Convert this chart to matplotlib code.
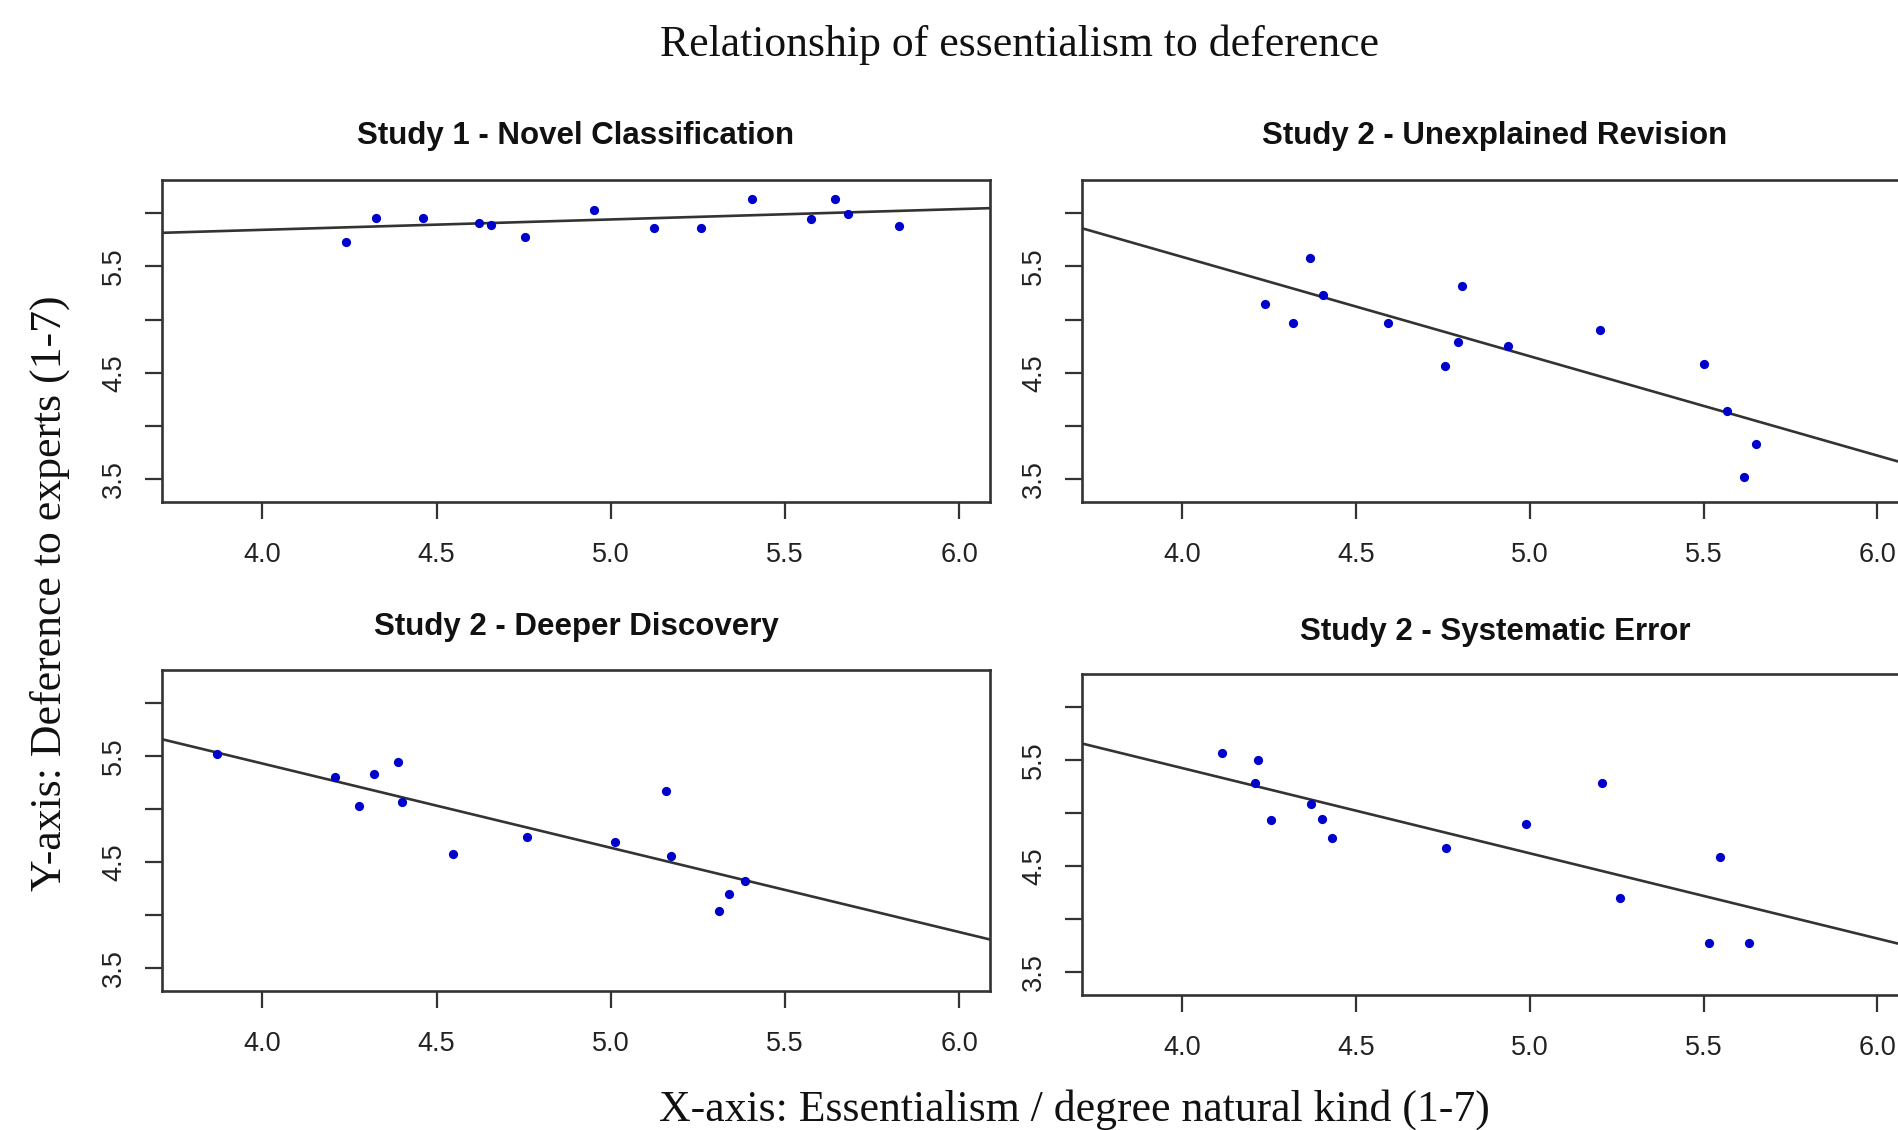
import matplotlib
matplotlib.use("Agg")
import matplotlib.pyplot as plt

# ---- data ----
titles = ["Study 1 - Novel Classification", "Study 2 - Unexplained Revision",
          "Study 2 - Deeper Discovery", "Study 2 - Systematic Error"]

x1 = [4.240, 4.327, 4.462, 4.622, 4.656, 4.753, 4.953, 5.124, 5.260, 5.405, 5.575, 5.642, 5.681, 5.826]
y1 = [5.731, 5.959, 5.959, 5.906, 5.891, 5.781, 6.028, 5.859, 5.859, 6.134, 5.944, 6.134, 5.997, 5.881]

x2 = [4.238, 4.318, 4.368, 4.406, 4.591, 4.756, 4.795, 4.805, 4.936, 5.203, 5.502, 5.567, 5.652, 5.617]
y2 = [5.147, 4.972, 5.581, 5.234, 4.972, 4.569, 4.788, 5.316, 4.750, 4.900, 4.584, 4.141, 3.834, 3.519]

x3 = [3.870, 4.208, 4.276, 4.319, 4.388, 4.400, 4.547, 4.760, 5.012, 5.158, 5.174, 5.309, 5.340, 5.384]
y3 = [5.522, 5.306, 5.031, 5.334, 5.450, 5.069, 4.578, 4.738, 4.688, 5.172, 4.556, 4.041, 4.203, 4.325]

x4 = [4.116, 4.219, 4.210, 4.256, 4.371, 4.401, 4.431, 4.758, 4.989, 5.209, 5.260, 5.546, 5.516, 5.631]
y4 = [5.571, 5.498, 5.285, 4.934, 5.085, 4.950, 4.765, 4.671, 4.903, 5.285, 4.204, 4.586, 3.777, 3.777]

intercepts = [5.454, 9.322, 8.607, 8.638]
slopes = [0.0975, -0.933, -0.794, -0.803]

xticks = [4.0, 4.5, 5.0, 5.5, 6.0]
xticklabels = ["4.0", "4.5", "5.0", "5.5", "6.0"]
yticks = [3.5, 4.0, 4.5, 5.0, 5.5, 6.0]
yticklabels = ["3.5", "", "4.5", "", "5.5", ""]

main_title = "Relationship of essentialism to deference"
xlabel = "X-axis: Essentialism / degree natural kind (1-7)"
ylabel = "Y-axis: Deference to experts (1-7)"

xs = [x1, x2, x3, x4]
ys = [y1, y2, y3, y4]

W, H = 1898, 1130
fig = plt.figure(figsize=(W / 100, H / 100), dpi=100)

# axes boxes in pixels: left, top, right, bottom
boxes = [(162, 180, 990, 502), (1082, 180, 1908, 502),
         (162, 670, 990, 991), (1082, 674, 1908, 995)]
title_y = [136, 136, 627, 632]

sans = ["Liberation Sans", "DejaVu Sans"]
serif = ["Liberation Serif", "DejaVu Serif"]
frame_col = "#333333"

for i in range(4):
    l, t, r, b = boxes[i]
    ax = fig.add_axes([l / W, 1 - b / H, (r - l) / W, (b - t) / H])
    ax.scatter(xs[i], ys[i], s=44, color="#0000cc", zorder=3, linewidths=0)
    ax.axline((0, intercepts[i]), slope=slopes[i], color="#333333", lw=1.9, zorder=2)
    ax.set_xlim(3.712, 6.088)
    ax.set_ylim(3.288, 6.312)
    ax.set_xticks(xticks)
    ax.set_xticklabels(xticklabels, fontsize=19.5, family=sans, color="#222222")
    ax.set_yticks(yticks)
    ax.set_yticklabels(yticklabels, fontsize=19.5, family=sans, rotation=90,
                       va="center", color="#222222")
    ax.tick_params(axis="both", direction="out", length=12, width=1.6, color=frame_col)
    ax.tick_params(axis="x", pad=17)
    ax.tick_params(axis="y", pad=13)
    for sp in ax.spines.values():
        sp.set_color(frame_col)
        sp.set_linewidth(1.9)
    fig.text(((l + r) / 2) / W, 1 - title_y[i] / H, titles[i], ha="center", va="center",
             fontsize=22.5, fontweight="bold", family=sans, color="#111111")

fig.text(1019 / W, 1 - 45 / H, main_title, ha="center", va="center",
         fontsize=31.5, family=serif, color="#111111")
fig.text(1074 / W, 1 - 1110 / H, xlabel, ha="center", va="center",
         fontsize=31.5, family=serif, color="#111111")
fig.text(50 / W, 1 - 593 / H, ylabel, ha="center", va="center", rotation=90,
         fontsize=31.5, family=serif, color="#111111")

fig.savefig("out.png", dpi=100)
